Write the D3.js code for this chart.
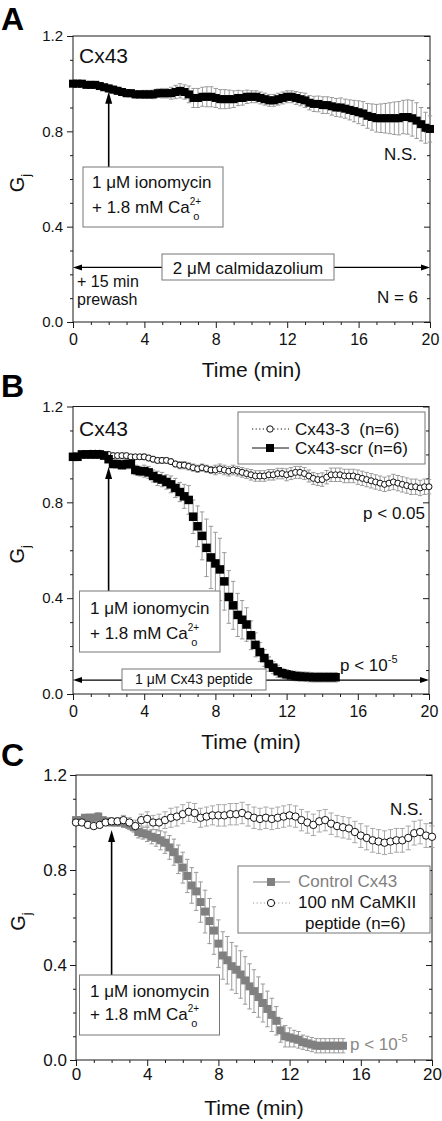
<!DOCTYPE html>
<html><head><meta charset="utf-8">
<script src="https://cdn.jsdelivr.net/npm/d3@7"></script>
<style>body{margin:0;background:#fff}svg{display:block}</style>
</head><body>
<script>
// ---------------- DATA ----------------
const xMajor = [0, 4, 8, 12, 16, 20];
const xMinor = [1, 2, 3, 5, 6, 7, 9, 10, 11, 13, 14, 15, 17, 18, 19];
const yMajor = [0.0, 0.4, 0.8, 1.2];
const yMinor = [0.1, 0.2, 0.3, 0.5, 0.6, 0.7, 0.9, 1.0, 1.1];

const stepQ = 0.25;     // sampling interval (min) for most series
const stepT = 1 / 3;    // sampling interval (min) for CaMKII-peptide series

// Panel A: Cx43 + 2 uM calmidazolium
const aVals = [
  1.00,1.00,1.00,0.995,0.995,0.995,0.99,0.985,
  0.98,0.975,0.97,0.965,0.96,0.96,0.955,0.955,
  0.955,0.955,0.955,0.96,0.96,0.96,0.96,0.965,
  0.97,0.965,0.955,0.94,0.94,0.945,0.945,0.945,
  0.94,0.935,0.935,0.935,0.935,0.94,0.94,0.945,
  0.945,0.945,0.94,0.935,0.93,0.93,0.935,0.94,
  0.945,0.945,0.94,0.935,0.93,0.92,0.915,0.915,
  0.91,0.91,0.905,0.90,0.90,0.895,0.89,0.885,
  0.88,0.875,0.865,0.86,0.855,0.855,0.855,0.855,
  0.855,0.855,0.86,0.86,0.855,0.845,0.83,0.815,
  0.81];
const aErr = [
  0.01,0.01,0.01,0.01,0.01,0.01,0.01,0.01,
  0.015,0.015,0.015,0.015,0.015,0.015,0.015,0.015,
  0.017,0.017,0.018,0.018,0.02,0.02,0.025,0.028,
  0.03,0.03,0.035,0.04,0.04,0.04,0.042,0.042,
  0.04,0.04,0.04,0.038,0.035,0.032,0.03,0.028,
  0.025,0.025,0.025,0.025,0.025,0.025,0.025,0.025,
  0.025,0.025,0.027,0.028,0.03,0.03,0.032,0.033,
  0.035,0.035,0.037,0.038,0.04,0.04,0.042,0.045,
  0.048,0.05,0.052,0.055,0.058,0.06,0.062,0.065,
  0.068,0.07,0.07,0.072,0.075,0.075,0.07,0.065,
  0.055];

// Panel B: Cx43-3 (open circles) and Cx43-scr (black squares)
const bCx433 = [
  0.99,0.99,1.0,1.0,1.005,1.005,1.005,1.0,
  1.0,0.995,0.995,0.995,0.995,0.99,0.99,0.99,
  0.99,0.985,0.98,0.975,0.975,0.975,0.97,0.96,
  0.955,0.955,0.95,0.945,0.94,0.945,0.94,0.935,
  0.935,0.94,0.935,0.93,0.935,0.93,0.925,0.92,
  0.915,0.91,0.91,0.91,0.915,0.915,0.92,0.92,
  0.915,0.92,0.925,0.925,0.92,0.91,0.90,0.895,
  0.895,0.905,0.915,0.915,0.915,0.91,0.91,0.91,
  0.905,0.90,0.895,0.89,0.885,0.88,0.875,0.88,
  0.885,0.88,0.875,0.87,0.865,0.865,0.86,0.865,
  0.865];
const bCx433Err = [
  0.01,0.01,0.01,0.01,0.01,0.01,0.01,0.01,
  0.01,0.01,0.01,0.01,0.01,0.01,0.01,0.01,
  0.012,0.012,0.012,0.012,0.012,0.012,0.012,0.012,
  0.015,0.015,0.015,0.015,0.015,0.015,0.015,0.015,
  0.02,0.02,0.02,0.02,0.02,0.02,0.02,0.02,
  0.022,0.022,0.022,0.022,0.022,0.022,0.022,0.022,
  0.025,0.025,0.025,0.025,0.025,0.025,0.025,0.025,
  0.028,0.028,0.028,0.028,0.028,0.028,0.028,0.028,
  0.03,0.03,0.03,0.03,0.03,0.03,0.03,0.03,
  0.032,0.032,0.032,0.032,0.032,0.032,0.032,0.032,
  0.03];
const bScr = [
  0.99,0.99,1.0,1.0,1.0,1.0,1.0,0.995,
  0.98,0.96,0.96,0.955,0.96,0.96,0.935,0.93,
  0.93,0.925,0.91,0.90,0.895,0.885,0.875,0.86,
  0.843,0.825,0.81,0.74,0.70,0.66,0.61,0.57,
  0.545,0.52,0.47,0.405,0.37,0.33,0.31,0.29,
  0.245,0.205,0.175,0.15,0.125,0.11,0.095,0.087,
  0.082,0.078,0.075,0.073,0.072,0.071,0.07,0.07,
  0.07,0.07,0.07,0.07];
const bScrErr = [
  0.01,0.01,0.01,0.01,0.01,0.01,0.01,0.01,
  0.012,0.015,0.015,0.015,0.02,0.02,0.02,0.02,
  0.025,0.025,0.025,0.03,0.03,0.03,0.035,0.04,
  0.04,0.05,0.06,0.07,0.085,0.10,0.12,0.13,
  0.13,0.13,0.12,0.11,0.10,0.09,0.08,0.07,
  0.06,0.05,0.04,0.035,0.03,0.025,0.025,0.02,
  0.02,0.02,0.02,0.02,0.02,0.02,0.02,0.02,
  0.02,0.02,0.02,0.02];

// Panel C: Control Cx43 (gray squares) and 100 nM CaMKII peptide (open circles)
const cCtrl = [
  1.01,1.01,1.02,1.02,1.02,1.025,1.01,1.005,
  1.0,1.0,1.0,0.995,0.99,0.98,0.96,0.955,
  0.95,0.94,0.935,0.925,0.915,0.895,0.875,0.845,
  0.81,0.775,0.735,0.71,0.665,0.625,0.585,0.545,
  0.49,0.44,0.42,0.395,0.38,0.36,0.335,0.31,
  0.29,0.265,0.24,0.215,0.19,0.165,0.125,0.10,
  0.095,0.09,0.085,0.075,0.07,0.065,0.06,0.06,
  0.06,0.06,0.06,0.06,0.06];
const cCtrlErr = [
  0.01,0.01,0.01,0.015,0.015,0.015,0.01,0.01,
  0.01,0.01,0.012,0.015,0.02,0.02,0.025,0.025,
  0.03,0.03,0.035,0.04,0.045,0.05,0.055,0.06,
  0.065,0.07,0.075,0.08,0.085,0.09,0.095,0.10,
  0.10,0.10,0.10,0.10,0.10,0.10,0.10,0.095,
  0.09,0.085,0.08,0.075,0.07,0.06,0.05,0.045,
  0.04,0.035,0.035,0.03,0.03,0.03,0.03,0.03,
  0.03,0.03,0.03,0.03,0.03];
const cPep = [
  1.00,1.00,0.99,0.985,0.99,1.0,
  1.005,1.005,1.01,1.0,0.985,1.01,
  1.015,1.0,1.0,1.01,1.02,1.025,
  1.035,1.045,1.04,1.02,1.025,1.03,
  1.03,1.03,1.035,1.035,1.04,1.03,
  1.02,1.015,1.02,1.015,1.02,1.025,
  1.03,1.025,1.01,1.0,0.99,1.005,
  1.01,0.995,0.985,0.98,0.975,0.96,
  0.945,0.935,0.925,0.92,0.915,0.92,
  0.925,0.925,0.935,0.955,0.96,0.945,
  0.94];
const cPepErr = [
  0.01,0.01,0.01,0.01,0.01,0.01,
  0.015,0.015,0.02,0.02,0.025,0.025,
  0.03,0.03,0.035,0.035,0.04,0.04,
  0.04,0.04,0.04,0.04,0.04,0.04,
  0.045,0.045,0.045,0.045,0.045,0.045,
  0.045,0.045,0.045,0.045,0.045,0.045,
  0.045,0.045,0.045,0.045,0.045,0.045,
  0.045,0.045,0.045,0.045,0.045,0.045,
  0.05,0.05,0.05,0.05,0.05,0.05,
  0.05,0.05,0.05,0.05,0.05,0.05,
  0.045];

// ---------------- DRAWING ----------------
const FONT = '"Liberation Sans", Arial, Helvetica, sans-serif';
const INK = "#1a1a1a";
const ERR = "#9a9a9a";
const GRAY = "#808080";
const svg = d3.select("body").append("svg")
  .attr("width", 442).attr("height", 1121)
  .style("font-family", FONT);

function series(vals, errs, step) {
  return vals.map((v, i) => ({ t: i * step, v: v, e: errs[i] }));
}

function panel(o) {
  const x = d3.scaleLinear().domain([0, 20]).range([o.x0, o.x1]);
  const y = d3.scaleLinear().domain([0, 1.2]).range([o.y0, o.y1]);
  const g = svg.append("g");
  const axL = g.append("g").attr("transform", `translate(${o.x0},0)`)
    .call(d3.axisLeft(y).tickValues(yMajor).tickFormat(d3.format(".1f")).tickSize(6).tickPadding(o.yPad));
  axL.selectAll("text").style("font-size", o.yFs + "px");
  g.append("g").attr("transform", `translate(${o.x0},0)`)
    .call(d3.axisLeft(y).tickValues(yMinor).tickSize(3).tickFormat(""));
  g.append("g").attr("transform", `translate(${o.x1},0)`)
    .call(d3.axisRight(y).tickValues(yMajor).tickSize(-6).tickFormat(""));
  g.append("g").attr("transform", `translate(${o.x1},0)`)
    .call(d3.axisRight(y).tickValues(yMinor).tickSize(-3).tickFormat(""));
  const axB = g.append("g").attr("transform", `translate(0,${o.y0})`)
    .call(d3.axisBottom(x).tickValues(xMajor).tickSize(6).tickPadding(o.xPad));
  axB.selectAll("text").style("font-size", o.xFs + "px");
  g.append("g").attr("transform", `translate(0,${o.y0})`)
    .call(d3.axisBottom(x).tickValues(xMinor).tickSize(3).tickFormat(""));
  g.selectAll(".domain").remove();
  g.selectAll(".tick line").attr("stroke", INK);
  g.selectAll(".tick text").attr("fill", "#111").style("font-family", FONT);
  g.append("rect").attr("x", o.x0).attr("y", o.y1)
    .attr("width", o.x1 - o.x0).attr("height", o.y0 - o.y1)
    .attr("fill", "none").attr("stroke", INK).attr("stroke-width", 1);
  // axis titles
  const cy = (o.y0 + o.y1) / 2 + 4;
  const gl = g.append("text").attr("transform", `translate(${o.gx},${cy}) rotate(-90)`)
    .attr("text-anchor", "middle").style("font-size", "20px").attr("fill", "#111");
  gl.append("tspan").text("G");
  gl.append("tspan").attr("dy", 6).style("font-size", "13px").text("j");
  g.append("text").attr("x", (o.x0 + o.x1) / 2).attr("y", o.tY)
    .attr("text-anchor", "middle").style("font-size", "21px").attr("fill", "#111").text("Time (min)");
  g.append("text").attr("x", 1).attr("y", o.labY).style("font-size", "32px")
    .style("font-weight", "bold").attr("fill", "#000").text(o.label);
  return { g, x, y };
}

function errorBars(P, data, color, cap) {
  const g = P.g.append("g").attr("stroke", color).attr("stroke-width", 1).attr("fill", "none");
  data.forEach(d => {
    const xx = P.x(d.t), ya = P.y(d.v - d.e), yb = P.y(d.v + d.e);
    g.append("line").attr("x1", xx).attr("x2", xx).attr("y1", ya).attr("y2", yb);
    g.append("line").attr("x1", xx - cap).attr("x2", xx + cap).attr("y1", ya).attr("y2", ya);
    g.append("line").attr("x1", xx - cap).attr("x2", xx + cap).attr("y1", yb).attr("y2", yb);
  });
}
function squares(P, data, size, color) {
  P.g.append("g").selectAll("rect").data(data).join("rect")
    .attr("x", d => P.x(d.t) - size / 2).attr("y", d => P.y(d.v) - size / 2)
    .attr("width", size).attr("height", size).attr("fill", color);
}
function circles(P, data, r) {
  P.g.append("g").selectAll("circle").data(data).join("circle")
    .attr("cx", d => P.x(d.t)).attr("cy", d => P.y(d.v)).attr("r", r)
    .attr("fill", "#fff").attr("stroke", "#111").attr("stroke-width", 1);
}
function vArrow(P, t, vTip, yBase) {
  const xx = P.x(t), yt = P.y(vTip);
  P.g.append("line").attr("x1", xx).attr("x2", xx).attr("y1", yBase).attr("y2", yt + 10)
    .attr("stroke", "#000").attr("stroke-width", 1.6);
  P.g.append("path").attr("d", `M${xx},${yt} L${xx - 3.5},${yt + 12} L${xx + 3.5},${yt + 12} Z`).attr("fill", "#000");
}
function hArrow(P, v) {
  const yy = P.y(v), a = P.x(0), b = P.x(20);
  P.g.append("line").attr("x1", a + 6).attr("x2", b - 6).attr("y1", yy).attr("y2", yy)
    .attr("stroke", "#000").attr("stroke-width", 1.3);
  P.g.append("path").attr("d", `M${a},${yy} L${a + 9},${yy - 3} L${a + 9},${yy + 3} Z`).attr("fill", "#000");
  P.g.append("path").attr("d", `M${b},${yy} L${b - 9},${yy - 3} L${b - 9},${yy + 3} Z`).attr("fill", "#000");
}
function box(P, x, y, w, h) {
  P.g.append("rect").attr("x", x).attr("y", y).attr("width", w).attr("height", h)
    .attr("fill", "#fff").attr("stroke", "#777").attr("stroke-width", 1);
}
function txt(P, x, y, s, size, opts = {}) {
  return P.g.append("text").attr("x", x).attr("y", y).style("font-size", size + "px")
    .style("white-space", "pre")
    .attr("text-anchor", opts.anchor || "start").attr("fill", opts.fill || "#111").text(s);
}
function ionoBox(P, bx, by, bw, bh, tx, b1, b2) {
  box(P, bx, by, bw, bh);
  txt(P, tx, b1, "1 \u03BCM ionomycin", 17);
  const t = txt(P, tx, b2, "+ 1.8 mM Ca", 17);
  t.append("tspan").attr("dy", -8).style("font-size", "10px").text("2+");
  t.append("tspan").attr("dx", -8).attr("dy", 15).style("font-size", "11px").text("o");
}
function pSup(P, x, y, color) {
  const t = txt(P, x, y, "p < 10", 17, { fill: color });
  t.append("tspan").attr("dy", -8).style("font-size", "11px").text("-5");
}

// ----- Panel A -----
const A = panel({ x0: 73, x1: 430, y0: 322, y1: 36, yPad: 4, xPad: 6, yFs: 15, xFs: 16, gx: 24, tY: 377, labY: 29.5, label: "A" });
const aData = series(aVals, aErr, stepQ);
errorBars(A, aData, ERR, 2.2);
squares(A, aData, 8, "#000");
txt(A, 79, 63, "Cx43", 21);
txt(A, 417, 160, "N.S.", 17, { anchor: "end" });
vArrow(A, 2, 0.966, 167);
ionoBox(A, 83, 167, 140, 60, 92, 188, 213);
hArrow(A, 0.229);
box(A, 162, 254, 172, 26);
txt(A, 248, 274, "2 \u03BCM calmidazolium", 17, { anchor: "middle" });
txt(A, 77, 287, "+ 15 min", 16);
txt(A, 77, 305, "prewash", 16);
txt(A, 418, 303, "N = 6", 17, { anchor: "end" });

// ----- Panel B -----
const B = panel({ x0: 73, x1: 429, y0: 694, y1: 406.5, yPad: 4, xPad: 6, yFs: 15, xFs: 16, gx: 24, tY: 749, labY: 397, label: "B" });
const b3 = series(bCx433, bCx433Err, stepQ);
const bS = series(bScr, bScrErr, stepQ);
errorBars(B, b3, ERR, 2.2);
errorBars(B, bS, ERR, 2.2);
circles(B, b3, 3);
squares(B, bS, 8.5, "#000");
txt(B, 79, 436, "Cx43", 21);
// legend B
box(B, 238, 412, 187, 52);
B.g.append("line").attr("x1", 252).attr("x2", 289).attr("y1", 429).attr("y2", 429)
  .attr("stroke", "#111").attr("stroke-dasharray", "1.2,2.4");
B.g.append("circle").attr("cx", 270).attr("cy", 429).attr("r", 3.2).attr("fill", "#fff").attr("stroke", "#111");
txt(B, 295, 435, "Cx43-3  (n=6)", 17);
B.g.append("line").attr("x1", 252).attr("x2", 289).attr("y1", 448).attr("y2", 448).attr("stroke", "#111");
B.g.append("rect").attr("x", 266).attr("y", 444).attr("width", 8).attr("height", 8).attr("fill", "#000");
txt(B, 295, 454, "Cx43-scr (n=6)", 17);
txt(B, 425, 519, "p < 0.05", 17, { anchor: "end" });
vArrow(B, 2, 0.947, 591);
ionoBox(B, 79.5, 591, 140.5, 61, 90, 614, 639);
hArrow(B, 0.058);
box(B, 122, 669, 144, 21);
txt(B, 194, 684, "1 \u03BCM Cx43 peptide", 14, { anchor: "middle" });
pSup(B, 340, 671, "#111");

// ----- Panel C -----
const C = panel({ x0: 76, x1: 432, y0: 1060, y1: 775, yPad: 3, xPad: 2, yFs: 17, xFs: 17, gx: 25, tY: 1115, labY: 766, label: "C" });
const cC = series(cCtrl, cCtrlErr, stepQ);
const cP = series(cPep, cPepErr, stepT);
errorBars(C, cC, ERR, 2.2);
errorBars(C, cP, "#a8a8a8", 2.6);
squares(C, cC, 8, GRAY);
circles(C, cP, 3.7);
txt(C, 423, 815, "N.S.", 17, { anchor: "end" });
// legend C
box(C, 238, 866, 192, 67);
C.g.append("line").attr("x1", 253).attr("x2", 290).attr("y1", 882).attr("y2", 882).attr("stroke", GRAY);
C.g.append("rect").attr("x", 267).attr("y", 878).attr("width", 8).attr("height", 8).attr("fill", GRAY);
txt(C, 298, 887, "Control Cx43", 17, { fill: GRAY });
C.g.append("line").attr("x1", 253).attr("x2", 290).attr("y1", 903).attr("y2", 903)
  .attr("stroke", "#999").attr("stroke-dasharray", "1.2,2.4");
C.g.append("circle").attr("cx", 271).attr("cy", 903).attr("r", 3.6).attr("fill", "#fff").attr("stroke", "#111");
txt(C, 298, 908, "100 nM CaMKII", 17);
txt(C, 305, 929, "peptide (n=6)", 17);
vArrow(C, 2, 0.968, 975);
ionoBox(C, 79.5, 975, 140, 60, 90, 997, 1020);
pSup(C, 350, 1050, "#888");
</script>
</body></html>
